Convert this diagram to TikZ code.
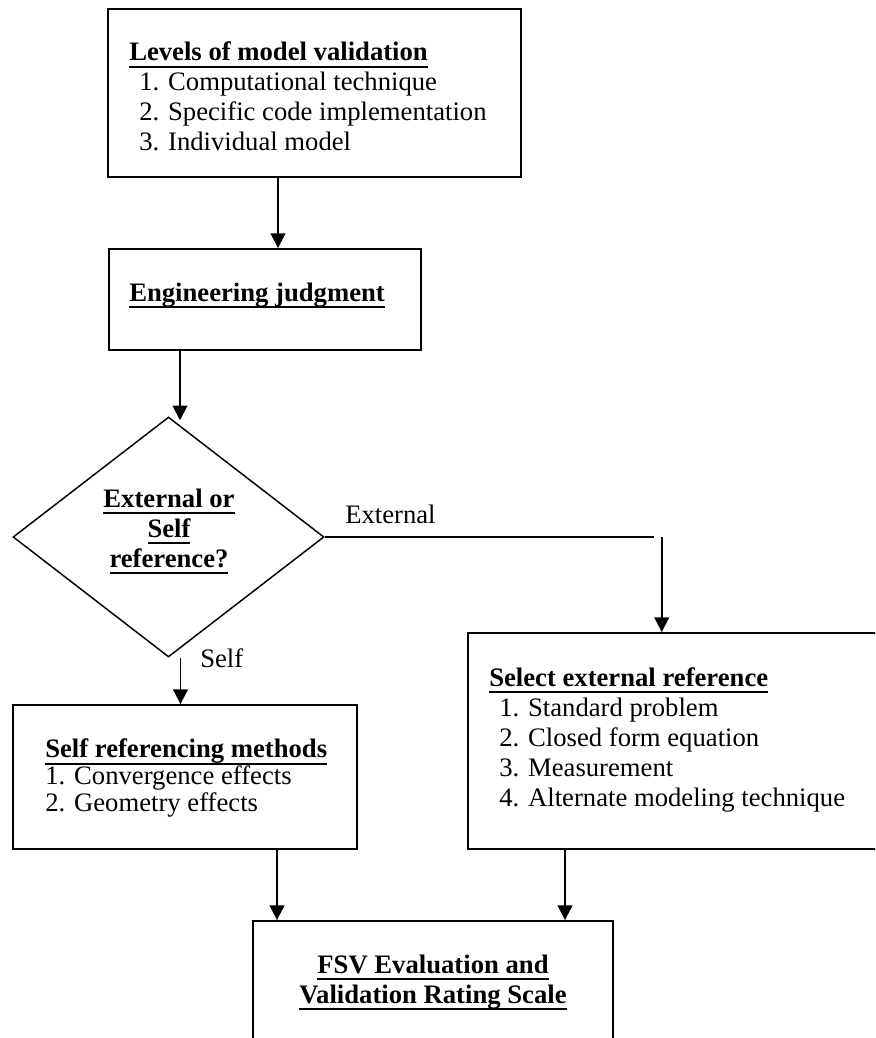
\documentclass[tikz,border=0pt]{standalone}
\usepackage{fontspec}
\setmainfont{Liberation Serif}
\usetikzlibrary{shapes.geometric,arrows.meta}
\newsavebox{\headbox}
\newcommand{\head}[1]{\sbox{\headbox}{\bfseries #1}\rlap{\rule[-5.2pt]{\wd\headbox}{1.5pt}}\usebox{\headbox}}

\begin{document}
\begin{tikzpicture}[x=0.75pt, y=-0.75pt,
    box/.style={rectangle, draw, line width=1.4pt, inner sep=0pt},
    txt/.style={inner sep=0pt, align=left, font=\fontsize{20}{22.5}\selectfont},
    flow/.style={line width=1.4pt, -{Triangle[length=11pt,width=11pt]}}]
\useasboundingbox (0,0) rectangle (875,1038);
\clip (0,0) rectangle (875,1038);

\node[box, minimum width=309.75pt, minimum height=126pt] (levels) at (314.5,93) {};
\node[txt, anchor=base west] (levelstxt) at (129,151) {\head{Levels of model validation}\\
  \hspace{7.5pt}1. Computational technique\\
  \hspace{7.5pt}2. Specific code implementation\\
  \hspace{7.5pt}3. Individual model};

\node[box, minimum width=234pt, minimum height=75.75pt] (judg) at (265,299.5) {};
\node[txt, anchor=base west] (judgtxt) at (129,301.5) {\head{Engineering judgment}};

\node[diamond, draw, line width=1.1pt, inner sep=0pt, minimum width=233.25pt, minimum height=180pt] (decide) at (168.5,537) {};
\node[txt, align=center, anchor=base] (decidetxt) at (169,567) {\head{External or}\\ \head{Self}\\ \head{reference?}};
\node[txt, anchor=base west] (extlbl) at (345,523) {External};
\node[txt, anchor=base west] (selflbl) at (200,667) {Self};

\node[box, minimum width=258pt, minimum height=108pt] (selfm) at (185,777) {};
\node[txt, anchor=base west, font=\fontsize{20}{20}\selectfont] (selfmtxt) at (45,811) {\head{Self referencing methods}\\
  1. Convergence effects\\
  2. Geometry effects};

\node[box, minimum width=309pt, minimum height=162pt] (extref) at (674,741) {};
\node[txt, anchor=base west] (extreftxt) at (489,806.5) {\head{Select external reference}\\
  \hspace{7.5pt}1. Standard problem\\
  \hspace{7.5pt}2. Closed form equation\\
  \hspace{7.5pt}3. Measurement\\
  \hspace{7.5pt}4. Alternate modeling technique};

\node[box, minimum width=270pt, minimum height=93.75pt] (fsv) at (433,983.5) {};
\node[txt, align=center, anchor=base] (fsvtxt) at (433,1003) {\head{FSV Evaluation and}\\ \head{Validation Rating Scale}};

\draw[flow] (levels.south) ++(-36.5,0) coordinate (a1) -- (a1 |- judg.north);
\draw[flow] (judg.south) ++(-85,0) coordinate (a2) -- ([yshift=-3pt]a2 |- decide.north);
\draw[flow] (decide.south) ++(12,0) coordinate (a3) -- (a3 |- selfm.north);
\draw[line width=1.4pt] (decide.east) -- ++(329,0) coordinate (a4);
\draw[flow] (decide.east) ++(337,0) coordinate (a5) -- (a5 |- extref.north);
\draw[flow] (selfm.south) ++(92,0) coordinate (a6) -- (a6 |- fsv.north);
\draw[flow] (extref.south) ++(-109,0) coordinate (a7) -- (a7 |- fsv.north);
\end{tikzpicture}
\end{document}
